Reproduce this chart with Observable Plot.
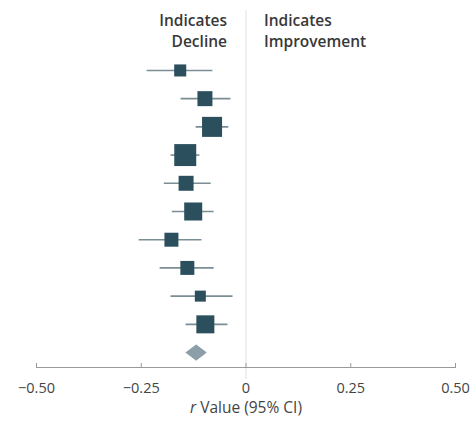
<!DOCTYPE html>
<html>
<head>
<meta charset="utf-8">
<script src="https://cdn.jsdelivr.net/npm/d3@7"></script>
<script src="https://cdn.jsdelivr.net/npm/@observablehq/plot@0.6"></script>
<style>
  html, body { margin: 0; padding: 0; background: #fff; }
  #chart svg { display: block; }
</style>
</head>
<body>
<div id="chart"></div>
<script>
// Study rows (top to bottom), r estimates with 95% CI and relative weight (%)
const rows      = [1, 2, 3, 4, 5, 6, 7, 8, 9, 10];
const estimates = [-0.157, -0.098, -0.081, -0.145, -0.143, -0.126, -0.178, -0.140, -0.109, -0.097];
const lower     = [-0.236, -0.155, -0.119, -0.179, -0.195, -0.176, -0.255, -0.205, -0.179, -0.143];
const upper     = [-0.079, -0.036, -0.041, -0.110, -0.083, -0.076, -0.105, -0.076, -0.031, -0.043];
const weights   = [5.5, 8.5, 15.2, 18.3, 8.5, 12.3, 7.4, 7.4, 4.6, 12.3];

// Pooled estimate
const pooledRow = 11;
const pooled = {est: -0.119, lo: -0.143, hi: -0.095};

const xTicks = [-0.5, -0.25, 0, 0.25, 0.5];
const xTickLabels = ["\u22120.50", "\u22120.25", "0", "0.25", "0.50"];

const studies = rows.map((r, i) => ({row: r, est: estimates[i], lo: lower[i], hi: upper[i], w: weights[i]}));

const halfH = 0.27; // diamond half-height in row units (style)
const diamond = [
  {x: pooled.lo, y: pooledRow},
  {x: pooled.est, y: pooledRow - halfH},
  {x: pooled.hi, y: pooledRow},
  {x: pooled.est, y: pooledRow + halfH},
  {x: pooled.lo, y: pooledRow}
];

const font = "'Open Sans', 'DejaVu Sans', sans-serif";

const chart = Plot.plot({
  width: 473,
  height: 422,
  marginTop: 55,
  marginBottom: 55,
  marginLeft: 36,
  marginRight: 18,
  style: {fontFamily: font, fontSize: "15px", color: "#333", background: "#fff"},
  x: {domain: [-0.5, 0.5], ticks: xTicks, tickFormat: (d) => xTickLabels[xTicks.indexOf(d)]},
  y: {domain: [11.53, 0.47], axis: null},
  r: {type: "sqrt", domain: [0, 18.3], range: [0, 12.4]},
  marks: [
    Plot.ruleX([0], {stroke: "#e6e6e6", strokeWidth: 1.2, insetTop: -45, insetBottom: -12}),
    Plot.frame({anchor: "bottom", stroke: "#9a9a9a", strokeWidth: 1.2}),
    Plot.axisX({
      ticks: xTicks,
      tickFormat: (d) => xTickLabels[xTicks.indexOf(d)],
      tickSize: -4,
      tickPadding: 19,
      stroke: "#9a9a9a",
      fill: "#444",
      fontSize: 14.5,
      label: null
    }),
    Plot.ruleY(studies, {y: "row", x1: "lo", x2: "hi", stroke: "#7b8d95", strokeWidth: 1.6}),
    Plot.dot(studies, {x: "est", y: "row", r: "w", symbol: "square", fill: "#2b4f5d", stroke: "none"}),
    Plot.line(diamond, {x: "x", y: "y", fill: "#8c9fa9", stroke: "#8c9fa9", strokeWidth: 1, curve: "linear"}),
    Plot.text(["r Value (95% CI)"], {
      x: () => 0, text: (d) => d, frameAnchor: "bottom", dy: 45.5,
      fill: "#444", fontSize: 15.5, className: "xlabel"
    }),
    Plot.text(["Indicates\nDecline"], {
      x: () => 0, text: (d) => d, frameAnchor: "top", dy: -25.5, dx: -19,
      textAnchor: "end", lineAnchor: "middle", lineHeight: 1.3,
      fontWeight: 600, fill: "#383838", fontSize: 15.5
    }),
    Plot.text(["Indicates\nImprovement"], {
      x: () => 0, text: (d) => d, frameAnchor: "top", dy: -25.5, dx: 18,
      textAnchor: "start", lineAnchor: "middle", lineHeight: 1.3,
      fontWeight: 600, fill: "#383838", fontSize: 15.5
    })
  ]
});

// Italicize the "r" in the axis label
d3.select(chart).selectAll(".xlabel text").each(function() {
  const t = d3.select(this);
  if (t.text() === "r Value (95% CI)") {
    t.text(null);
    t.append("tspan").attr("font-style", "italic").text("r");
    t.append("tspan").text(" Value (95% CI)");
  }
});

document.getElementById("chart").appendChild(chart);
</script>
</body>
</html>
